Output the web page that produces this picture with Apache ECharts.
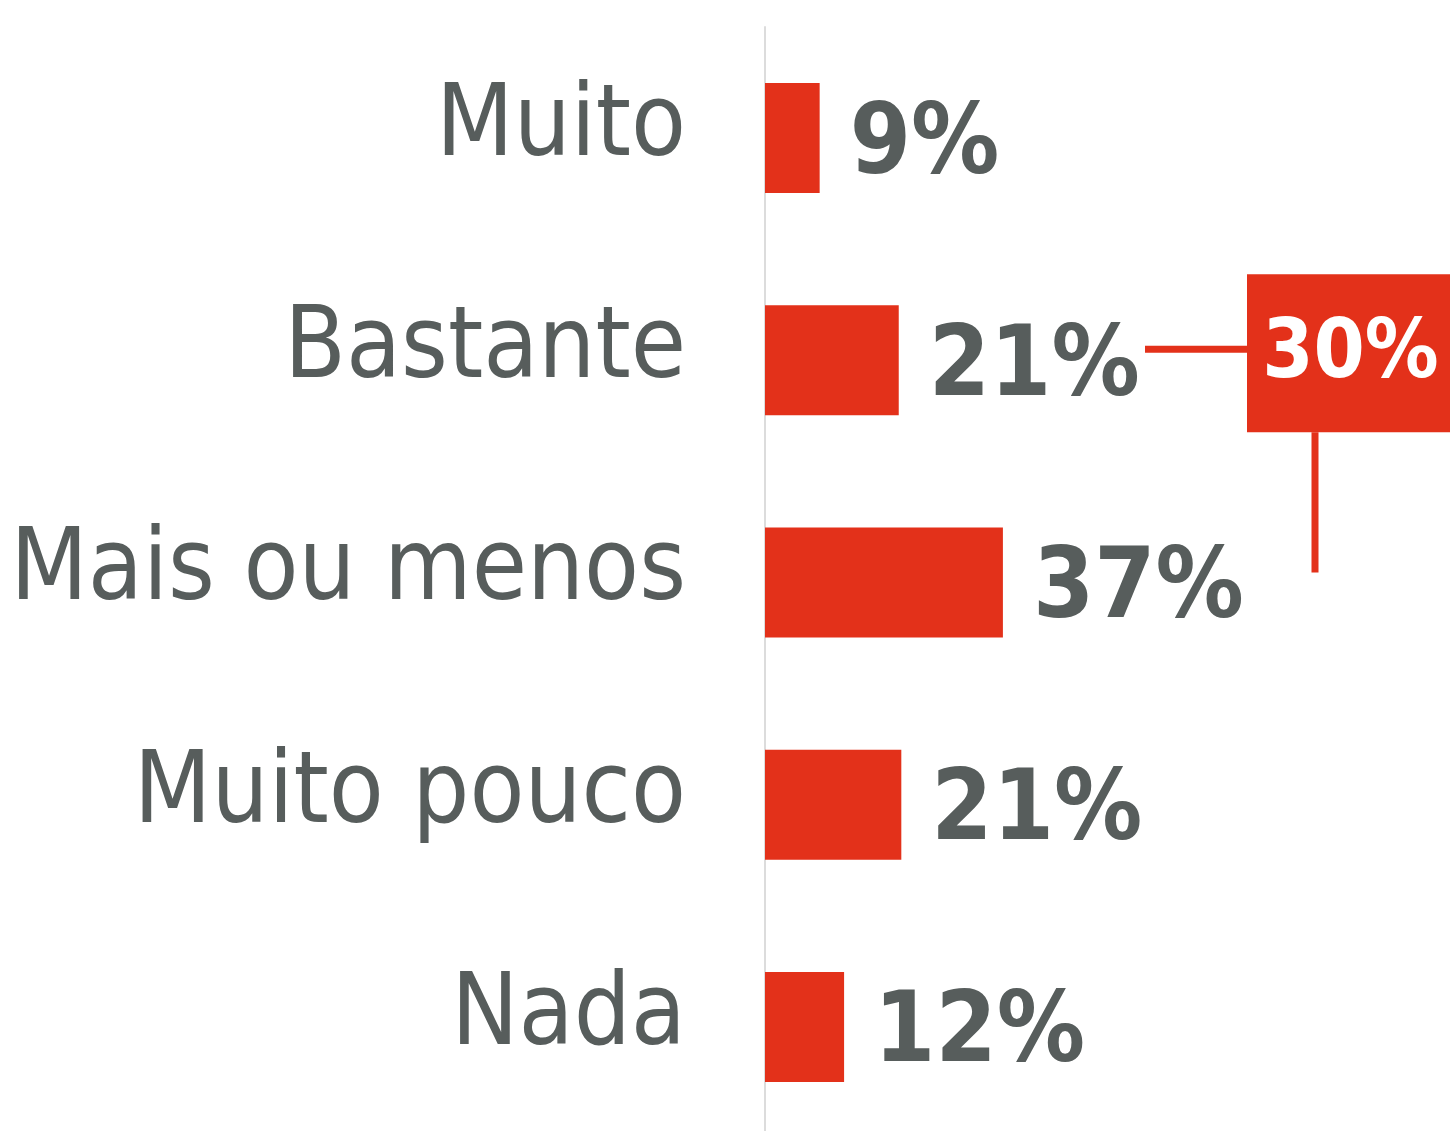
<!DOCTYPE html>
<html>
<head>
<meta charset="utf-8">
<script src="https://cdn.jsdelivr.net/npm/echarts@6/dist/echarts.min.js"></script>
<style>
  html, body { margin: 0; padding: 0; background: #fff; }
  #chart { width: 1450px; height: 1131px; }
</style>
</head>
<body>
<div id="chart"></div>
<script>
// categorias (de cima para baixo)
const categories = ['Muito', 'Bastante', 'Mais ou menos', 'Muito pouco', 'Nada'];
// comprimento das barras (%)
const values = [8.5, 20.8, 37, 21.2, 12.3];
// rótulos mostrados
const valueLabels = ['9%', '21%', '37%', '21%', '12%'];
// destaque: Muito + Bastante
const calloutLabel = '30%';
const calloutFrom = 'Bastante';
const calloutTo = 'Mais ou menos';

const RED = '#e3311a';
const GRAY = '#575d5c';
const FONT = '"Liberation Sans Narrow", "DejaVu Sans Condensed", sans-serif';

const chart = echarts.init(document.getElementById('chart'));

const option = {
  animation: false,
  grid: {
    left: 765,
    right: 42,
    top: 27,
    height: 1111,
    outerBoundsMode: 'none',
    containLabel: false
  },
  xAxis: {
    type: 'value',
    min: 0,
    max: 100,
    show: false
  },
  yAxis: {
    type: 'category',
    inverse: true,
    data: categories,
    axisLine: { show: true, lineStyle: { color: '#dcdcdc', width: 2 } },
    axisTick: { show: false },
    axisLabel: {
      color: GRAY,
      fontFamily: FONT,
      fontSize: 100,
      margin: 79,
      verticalAlign: 'bottom',
      lineHeight: 18
    }
  },
  series: [
    {
      type: 'bar',
      data: values,
      barWidth: 110,
      itemStyle: { color: RED },
      label: {
        show: true,
        position: 'right',
        distance: 30,
        offset: [0, 9],
        color: GRAY,
        fontFamily: FONT,
        fontWeight: 'bold',
        fontSize: 98,
        formatter: p => valueLabels[p.dataIndex]
      }
    }
  ]
};
chart.setOption(option);

// caixa de destaque com linhas de ligação
const yFrom = chart.convertToPixel({ yAxisIndex: 0 }, calloutFrom);
const yTo = chart.convertToPixel({ yAxisIndex: 0 }, calloutTo);
const boxX = 1247, boxW = 215, boxH = 158;
const boxY = yFrom - 86;
const stemX = 1315;
chart.setOption({
  graphic: [
    {
      type: 'line',
      shape: { x1: 1145, y1: yFrom - 11, x2: boxX, y2: yFrom - 11 },
      style: { stroke: RED, lineWidth: 7 }
    },
    {
      type: 'line',
      shape: { x1: stemX, y1: boxY + boxH, x2: stemX, y2: yTo - 10 },
      style: { stroke: RED, lineWidth: 7 }
    },
    {
      type: 'rect',
      shape: { x: boxX, y: boxY, width: boxW, height: boxH },
      style: { fill: RED }
    },
    {
      type: 'text',
      x: boxX + boxW / 2 - 4,
      y: boxY + boxH / 2 + 2,
      style: {
        text: calloutLabel,
        fill: '#fff',
        font: 'bold 82px ' + FONT,
        align: 'center',
        verticalAlign: 'middle'
      }
    }
  ]
});
</script>
</body>
</html>
